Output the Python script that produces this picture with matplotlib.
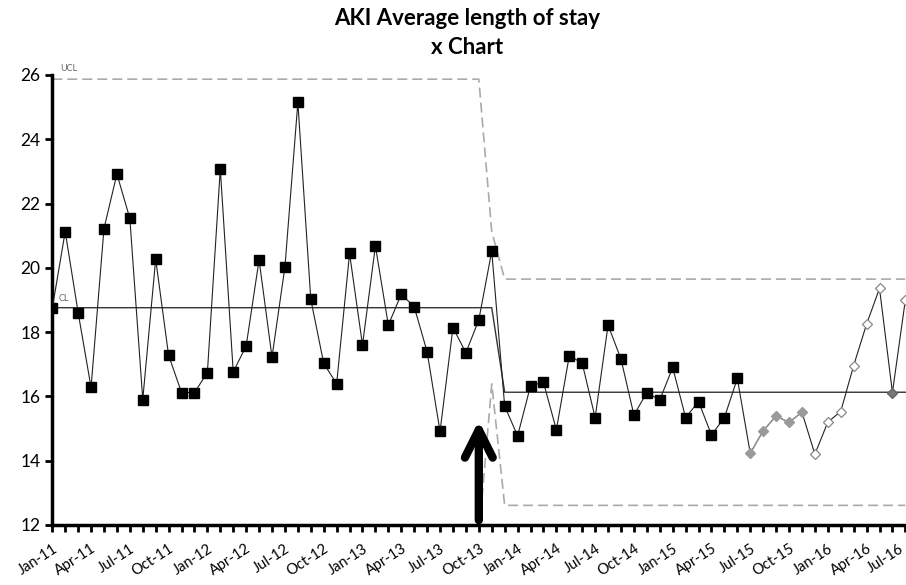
import matplotlib
matplotlib.use("Agg")
import matplotlib.pyplot as plt
from matplotlib.transforms import ScaledTranslation

plt.rcParams['font.family'] = ['Lato', 'DejaVu Sans']

# average length of stay per month, Jan-11 .. Jul-16
los = [18.74, 21.13, 18.61, 16.28, 21.22, 22.92, 21.54, 15.90, 20.27, 17.28,
       16.12, 16.12, 16.74, 23.08, 16.76, 17.57, 20.25, 17.22, 20.03, 25.15,
       19.02, 17.03, 16.39, 20.45, 17.60, 20.68, 18.22, 19.18, 18.79, 17.39,
       14.91, 18.14, 17.36, 18.38, 20.52, 15.70, 14.77, 16.33, 16.44, 14.96,
       17.27, 17.03, 15.34, 18.22, 17.16, 15.42, 16.12, 15.89, 16.90, 15.34,
       15.84, 14.80, 15.34, 16.56, 14.23, 14.93, 15.39, 15.19, 15.51, 14.20,
       15.20, 15.53, 16.96, 18.25, 19.36, 16.12, 19.00]

# control limits (month index, value) break points
ucl_x = [0, 33, 34, 35, 66]
ucl_y = [25.87, 25.87, 21.13, 19.65, 19.65]
cl_x = [0, 34, 35, 66]
cl_y = [18.76, 18.76, 16.13, 16.13]
lcl_x = [0, 33, 34, 35, 66]
lcl_y = [11.65, 11.65, 16.39, 12.61, 12.61]

tick_labels = ["Jan-11", "Apr-11", "Jul-11", "Oct-11", "Jan-12", "Apr-12",
               "Jul-12", "Oct-12", "Jan-13", "Apr-13", "Jul-13", "Oct-13",
               "Jan-14", "Apr-14", "Jul-14", "Oct-14", "Jan-15", "Apr-15",
               "Jul-15", "Oct-15", "Jan-16", "Apr-16", "Jul-16"]

n = len(los)
x = list(range(n))

fig = plt.figure(figsize=(9.06, 5.85), dpi=100)
ax = fig.add_axes([0.0577, 0.1026, 0.9423, 0.7692])

# limits
ax.plot(ucl_x, ucl_y, color="#aaaaaa", lw=1.2, ls=(0, (6, 3)))
ax.plot(lcl_x, lcl_y, color="#aaaaaa", lw=1.2, ls=(0, (6, 3)))
ax.plot(cl_x, cl_y, color="#333333", lw=1.0)

# data line
ax.plot(x, los, color="#222222", lw=0.8, zorder=3)
ax.plot(x[54:59], los[54:59], color="#9a9a9a", lw=0.9, zorder=3.5)

# markers
ax.plot(x[:54], los[:54], ls="none", marker="s", ms=6.5, mfc="black",
        mec="black", zorder=4)
ax.plot(x[54:59], los[54:59], ls="none", marker="D", ms=5, mfc="#9a9a9a",
        mec="#9a9a9a", zorder=4)
white_idx = [59, 60, 61, 62, 63, 64, 66]
ax.plot([x[i] for i in white_idx], [los[i] for i in white_idx], ls="none",
        marker="D", ms=5, mfc="white", mec="#888888", mew=0.9, zorder=4)
ax.plot(x[65], los[65], ls="none", marker="D", ms=5, mfc="#777777",
        mec="#666666", zorder=4)

ax.text(0.6, 26.05, "UCL", fontsize=6.5, color="#666666", va="bottom")
ax.text(0.5, 18.9, "CL", fontsize=6.5, color="#666666", va="bottom")

# intervention arrow
ax.annotate("", xy=(33, 15.25), xytext=(33, 12.15),
            arrowprops=dict(arrowstyle="->,head_length=0.4,head_width=0.2",
                            mutation_scale=50, lw=6, color="black",
                            shrinkA=0, shrinkB=0))

ax.set_xlim(0, 66.05)
ax.set_ylim(12, 26)
ax.set_yticks(range(12, 27, 2))
ax.set_xticks(range(0, n, 3))
ax.set_xticklabels(tick_labels, rotation=33, ha="right",
                   rotation_mode="anchor", fontsize=10.5)
ax.set_xticks(range(n), minor=True)
ax.tick_params(axis="y", labelsize=12.5, width=2, length=5, direction="out")
ax.tick_params(axis="x", which="both", width=2, length=5, direction="out",
               pad=7)

# last label sits right at the figure edge, nudge it in a bit
last = ax.get_xticklabels()[-1]
last.set_transform(last.get_transform()
                   + ScaledTranslation(-5 / 72, 0, fig.dpi_scale_trans))

for side in ["top", "right"]:
    ax.spines[side].set_visible(False)
for side in ["left", "bottom"]:
    ax.spines[side].set_linewidth(2.5)

fig.text(0.516, 1 - 33 / 585, "AKI Average length of stay\nx Chart",
         ha="center", va="center", fontsize=16, fontweight="bold",
         linespacing=1.45)

fig.savefig("out.png", dpi=100)
